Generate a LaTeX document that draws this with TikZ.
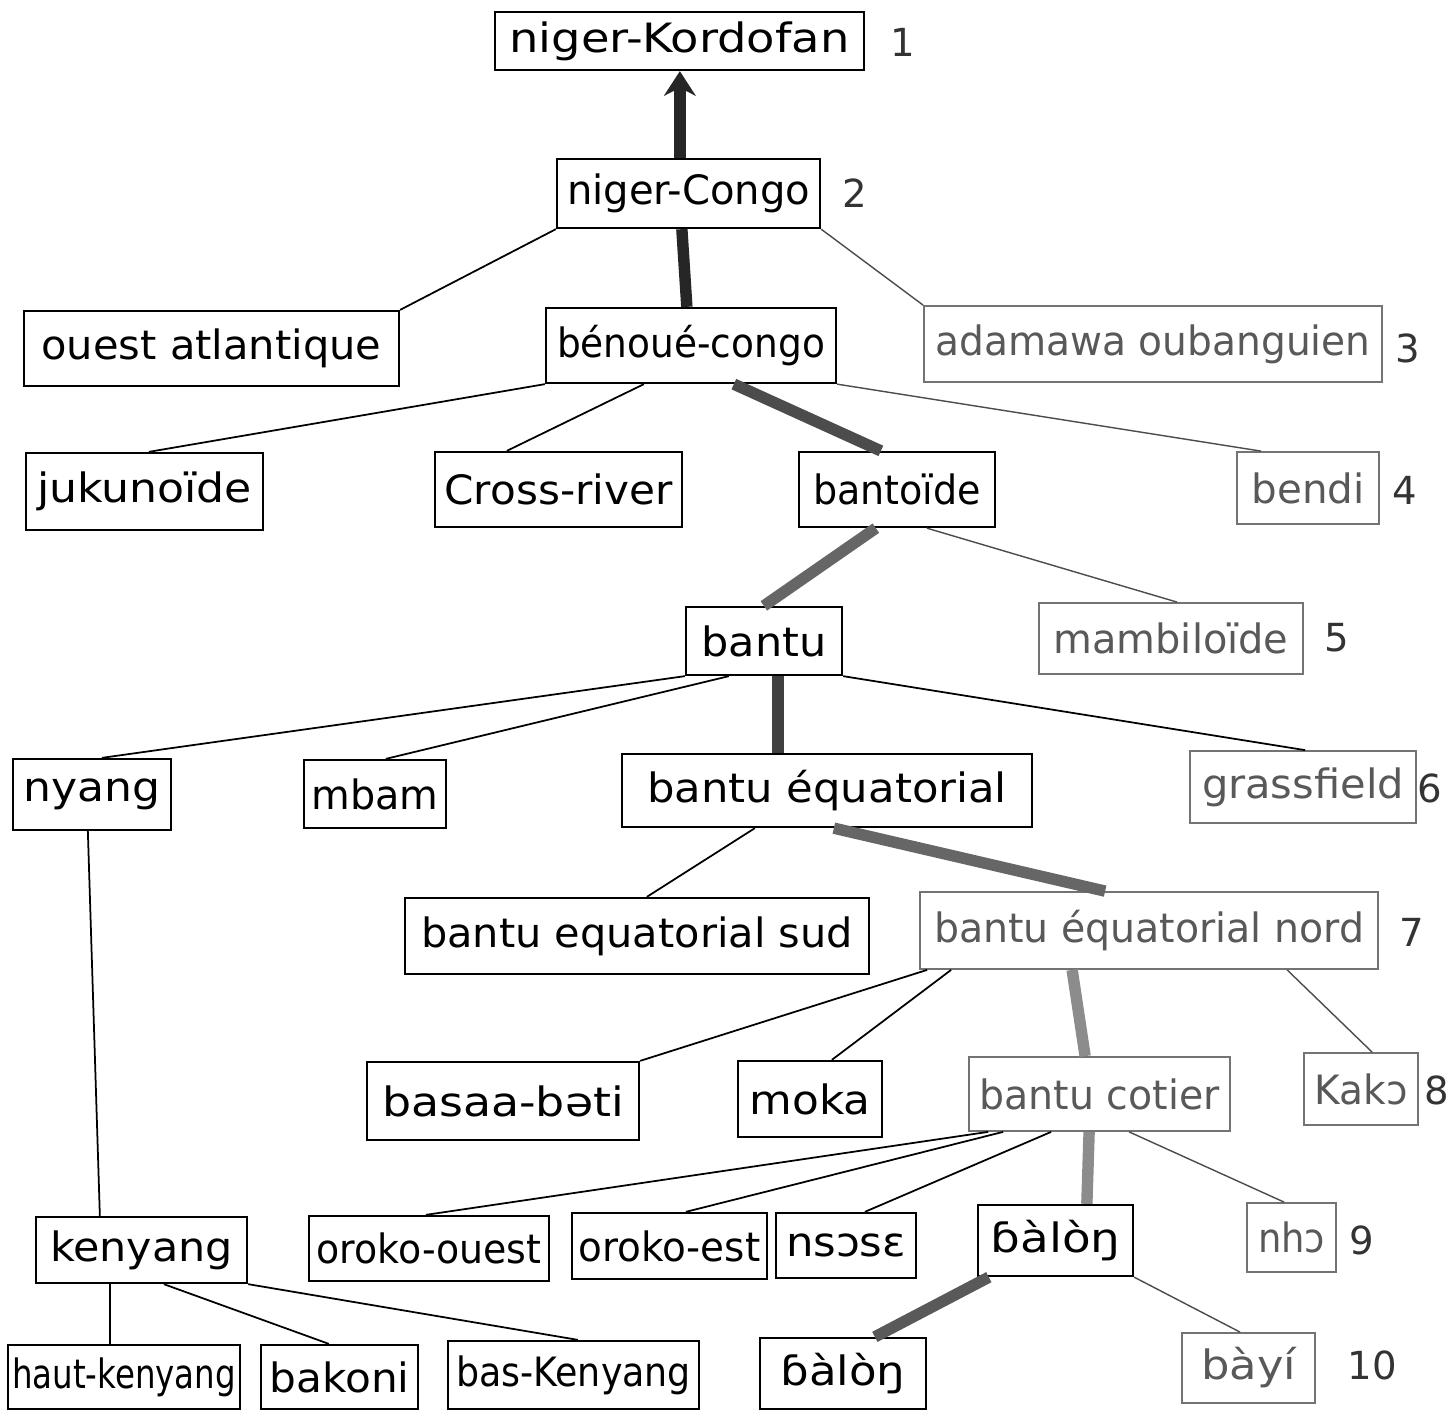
\documentclass[tikz,border=0pt]{standalone}
\usepackage{fontspec}
\usepackage{graphicx}
\setmainfont{DejaVu Sans}
\usetikzlibrary{calc,arrows.meta}
\newcommand\fitw[2]{\resizebox{#1cm}{\height}{\fontsize{23}{25}\selectfont #2}}
\tikzset{
  box/.style 2 args={draw=black, line width=1.3pt, rectangle, inner sep=0pt,
    minimum width=#1*0.02cm, minimum height=#2*0.02cm, text=black},
  fbox/.style 2 args={box={#1}{#2}, draw=black!55, line width=1pt, text=black!65},
  num/.style={inner sep=0pt, font=\fontsize{22}{24}\selectfont, text=black!80},
  link/.style={draw=black, line width=1pt},
  flink/.style={draw=black!70, line width=0.8pt},
  trunk/.style={line width=6.5pt, draw=black!#1},
}
\begin{document}
\begin{tikzpicture}[x=0.02cm,y=-0.02cm]
\useasboundingbox[fill=white] (0,0) rectangle (1455,1411);
% level 1-3
\node[box={369}{58}] (nk) at (679.5,41) {\fitw{6.8}{niger-Kordofan}};
\node[box={263}{69}] (nc) at (688.5,193.5) {\fitw{4.86}{niger-Congo}};
\node[box={375}{75}] (oa) at (211.5,348.5) {\fitw{6.8}{ouest atlantique}};
\node[box={290}{75}] (bc) at (691,345.5) {\fitw{5.36}{bénoué-congo}};
\node[fbox={458}{76}] (ad) at (1153,344) {\fitw{8.7}{adamawa oubanguien}};
% level 4
\node[box={237}{77}] (ju) at (144.5,491.5) {\fitw{4.3}{jukunoïde}};
\node[box={247}{75}] (cr) at (558.5,489.5) {\fitw{4.56}{Cross-river}};
\node[box={196}{75}] (bt) at (897,489.5) {\fitw{3.36}{bantoïde}};
\node[fbox={142}{72}] (be) at (1308,488) {\fitw{2.26}{bendi}};
% level 5
\node[box={156}{68}] (ba) at (764,641) {\fitw{2.5}{bantu}};
\node[fbox={264}{71}] (mb) at (1171,638.5) {\fitw{4.7}{mambiloïde}};
% level 6
\node[box={158}{71}] (ny) at (92,794.5) {\fitw{2.74}{nyang}};
\node[box={142}{68}] (mm) at (375,794) {\fitw{2.54}{mbam}};
\node[box={410}{73}] (eq) at (827,790.5) {\fitw{7.2}{bantu équatorial}};
\node[fbox={226}{72}] (gr) at (1303,787) {\fitw{4.04}{grassfield}};
% level 7
\node[box={464}{76}] (su) at (637,936) {\fitw{8.64}{bantu equatorial sud}};
\node[fbox={458}{77}] (no) at (1149,930.5) {\fitw{8.6}{bantu équatorial nord}};
% level 8
\node[box={272}{78}] (bs) at (503,1101) {\fitw{4.84}{basaa-bəti}};
\node[box={144}{76}] (mo) at (810,1099) {\fitw{2.42}{moka}};
\node[fbox={261}{74}] (co) at (1099.5,1094) {\fitw{4.8}{bantu cotier}};
\node[fbox={114}{72}] (ka) at (1361,1089) {\fitw{1.86}{Kakɔ}};
% level 9
\node[box={211}{66}] (ke) at (141.5,1250) {\fitw{3.66}{kenyang}};
\node[box={240}{65}] (oo) at (429,1248.5) {\fitw{4.5}{oroko-ouest}};
\node[box={195}{66}] (oe) at (669.5,1246) {\fitw{3.64}{oroko-est}};
\node[box={140}{65}] (ns) at (846,1245.5) {\fitw{2.4}{nsɔsɛ}};
\node[box={155}{71}] (bl) at (1055.5,1240.5) {\fitw{2.6}{ɓàlòŋ}};
\node[fbox={89}{69}] (nh) at (1291.5,1237.5) {\fitw{1.34}{nhɔ}};
% level 10
\node[box={232}{64}] (hk) at (124,1377) {\fitw{4.48}{haut-kenyang}};
\node[box={157}{64}] (bk) at (339.5,1377) {\fitw{2.8}{bakoni}};
\node[box={251}{68}] (bk2) at (573.5,1375) {\fitw{4.7}{bas-Kenyang}};
\node[box={166}{71}] (bl2) at (843,1373.5) {\fitw{2.5}{ɓàlòŋ}};
\node[fbox={133}{70}] (by) at (1248.5,1368) {\fitw{1.9}{bàyí}};
% level numbers
\node[num] (n1) at (903,42) {1};
\node[num] (n2) at (855,193) {2};
\node[num] (n3) at (1408,348) {3};
\node[num] (n4) at (1405,490) {4};
\node[num] (n5) at (1337,638) {5};
\node[num] (n6) at (1430,788) {6};
\node[num] (n7) at (1412,932) {7};
\node[num] (n8) at (1437,1090) {8};
\node[num] (n9) at (1362,1240) {9};
\node[num] (n10) at (1372,1365) {10};
% trunk connectors
\draw[trunk=85, -{Stealth[length=14pt,width=18pt]}] ($(nc.north west)+(124,0)$) -- ($(nk.south west)+(186,0)$);
\draw[trunk=85] ($(nc.south west)+(126,0)$) -- ($(bc.north west)+(142,0)$);
\draw[trunk=70] ($(bc.south west)+(189,0)$) -- ($(bt.north west)+(83,0)$);
\draw[trunk=60] ($(bt.south west)+(78,0)$) -- ($(ba.north west)+(79,0)$);
\draw[trunk=75] ($(ba.south west)+(93,0)$) -- ($(eq.north west)+(157,0)$);
\draw[trunk=60] ($(eq.south west)+(213,0)$) -- ($(no.north west)+(186,0)$);
\draw[trunk=45] ($(no.south west)+(153,0)$) -- ($(co.north west)+(117,0)$);
\draw[trunk=45] ($(co.south west)+(121,0)$) -- ($(bl.north west)+(110,0)$);
\draw[trunk=65] ($(bl.south west)+(12,0)$) -- ($(bl2.north west)+(116,0)$);
% thin connectors
\draw[link] (nc.south west) -- (oa.north east);
\draw[flink] (nc.south east) -- (ad.north west);
\draw[link] (bc.south west) -- ($(ju.north west)+(124,0)$);
\draw[link] ($(bc.south west)+(99,0)$) -- ($(cr.north west)+(73,0)$);
\draw[flink] (bc.south east) -- ($(be.north west)+(25,0)$);
\draw[flink] ($(bt.south west)+(129,0)$) -- ($(mb.north west)+(139,0)$);
\draw[link] (ba.south west) -- ($(ny.north west)+(90,0)$);
\draw[link] ($(ba.south west)+(44,0)$) -- ($(mm.north west)+(83,0)$);
\draw[link] (ba.south east) -- ($(gr.north west)+(116,0)$);
\draw[link] ($(ny.south west)+(76,0)$) -- ($(ke.north west)+(65,0)$);
\draw[link] ($(eq.south west)+(134,0)$) -- ($(su.north west)+(243,0)$);
\draw[link] ($(no.south west)+(8,0)$) -- (bs.north east);
\draw[link] ($(no.south west)+(32,0)$) -- ($(mo.north west)+(95,0)$);
\draw[flink] ($(no.south west)+(368,0)$) -- ($(ka.north west)+(69,0)$);
\draw[link] ($(co.south west)+(20,0)$) -- ($(oo.north west)+(118,0)$);
\draw[link] ($(co.south west)+(35,0)$) -- ($(oe.north west)+(115,0)$);
\draw[link] ($(co.south west)+(83,0)$) -- ($(ns.north west)+(90,0)$);
\draw[flink] ($(co.south west)+(161,0)$) -- ($(nh.north west)+(38,0)$);
\draw[link] ($(ke.south west)+(75,0)$) -- ($(hk.north west)+(103,0)$);
\draw[link] ($(ke.south west)+(129,0)$) -- ($(bk.north west)+(69,0)$);
\draw[link] (ke.south east) -- ($(bk2.north west)+(131,0)$);
\draw[flink] (bl.south east) -- ($(by.north west)+(59,0)$);
\end{tikzpicture}
\end{document}
